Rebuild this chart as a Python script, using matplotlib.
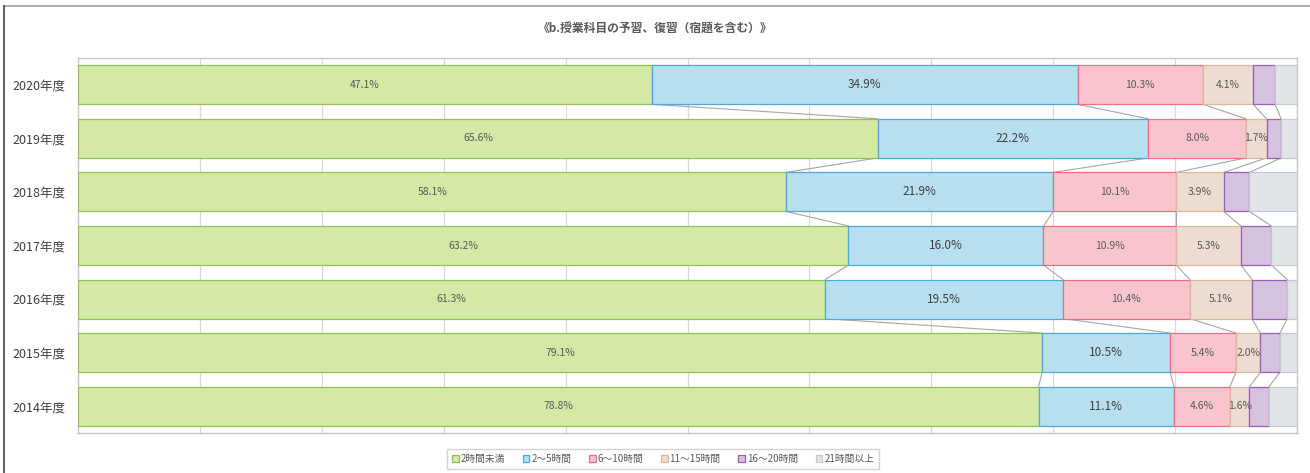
import numpy as np
import matplotlib
matplotlib.use("Agg")
import matplotlib.pyplot as plt
from matplotlib.lines import Line2D

plt.rcParams["font.family"] = ["Noto Sans CJK JP", "DejaVu Sans"]

TITLE = "《b.授業科目の予習、復習（宿題を含む）》"
YEARS = ["2020年度", "2019年度", "2018年度", "2017年度", "2016年度", "2015年度", "2014年度"]
SERIES = ["2時間未満", "2〜5時間", "6〜10時間", "11〜15時間", "16〜20時間", "21時間以上"]

under2 = [47.1, 65.6, 58.1, 63.2, 61.3, 79.1, 78.8]
h2_5 = [34.9, 22.2, 21.9, 16.0, 19.5, 10.5, 11.1]
h6_10 = [10.3, 8.0, 10.1, 10.9, 10.4, 5.4, 4.6]
h11_15 = [4.1, 1.7, 3.9, 5.3, 5.1, 2.0, 1.6]
h16_20 = [1.8, 1.2, 2.1, 2.5, 2.9, 1.6, 1.6]
over21 = [1.8, 1.3, 3.9, 2.1, 0.8, 1.4, 2.3]

FILLS = ["#d5e9a7", "#b8dff0", "#f8c5cd", "#ecdcd1", "#d5c2de", "#e1e4e8"]
EDGES = ["#8fc24f", "#4caad9", "#ec6f86", "#dcb89b", "#9a5fb4", "#c5c9cd"]
SHOW_LABEL = [True, True, True, True, False, False]


def main():
    data = np.array([under2, h2_5, h6_10, h11_15, h16_20, over21])
    n = len(YEARS)
    ypos = np.arange(n)[::-1]  # 2020 on top
    bar_h = 0.73

    fig = plt.figure(figsize=(13.1, 4.73), dpi=100)
    ax = fig.add_axes([78 / 1310, 1 - 433 / 473, (1297 - 78) / 1310, (433 - 58) / 473])

    # outer chart frame (top + left)
    fig.add_artist(Line2D([4 / 1310, 1], [1 - 6 / 473, 1 - 6 / 473], color="#9a9a9a", lw=1.2))
    fig.add_artist(Line2D([4 / 1310, 4 / 1310], [0, 1 - 6 / 473], color="#3c4450", lw=1.2))

    left = np.zeros(n)
    for i, vals in enumerate(data):
        ax.barh(ypos, vals, left=left, height=bar_h, color=FILLS[i],
                edgecolor=EDGES[i], linewidth=0.9, zorder=3)
        if SHOW_LABEL[i]:
            for y, l, v in zip(ypos, left, vals):
                if i == 1:
                    ax.text(l + v / 2, y, f"{v:.1f}%", ha="center", va="center",
                            fontsize=8.5, color="#404040", zorder=5)
                else:
                    ax.text(l + v / 2, y, f"{v:.1f}%", ha="center", va="center",
                            fontsize=7.5, color="#595959", zorder=5)
        left = left + vals
        # series lines between adjacent bars
        if i < len(data) - 1:
            for k in range(n - 1):
                ax.plot([left[k], left[k + 1]],
                        [ypos[k] - bar_h / 2, ypos[k + 1] + bar_h / 2],
                        color="#a6a6a6", lw=0.8, zorder=2)

    ax.set_xlim(0, 100)
    ax.set_ylim(-0.5, n - 0.5)
    ax.set_xticks(np.arange(0, 101, 10))
    ax.set_xticklabels([])
    ax.tick_params(axis="x", length=0)
    ax.tick_params(axis="y", length=0, pad=9, labelsize=9, labelcolor="#404040")
    ax.set_yticks(ypos)
    ax.set_yticklabels(YEARS)
    ax.grid(axis="x", color="#d9d9d9", lw=0.9, zorder=0)
    ax.set_axisbelow(True)
    for s in ax.spines.values():
        s.set_color("#c8c8c8")
        s.set_linewidth(1.0)

    fig.text(0.5, 1 - 28 / 473, TITLE, ha="center", va="center",
             fontsize=8.5, fontweight="bold", color="#595959")

    handles = [plt.Rectangle((0, 0), 1, 1, facecolor=FILLS[i], edgecolor=EDGES[i], lw=0.9)
               for i in range(len(SERIES))]
    leg = fig.legend(handles, SERIES, loc="center", bbox_to_anchor=(663 / 1310, 1 - 459 / 473),
                     ncol=6, fontsize=7, frameon=True, handlelength=0.7, handleheight=0.7,
                     handletextpad=0.2, columnspacing=1.8, borderpad=0.5, fancybox=False)
    leg.get_frame().set_edgecolor("#c8c8c8")
    leg.get_frame().set_linewidth(1.0)
    for t in leg.get_texts():
        t.set_color("#595959")

    fig.savefig("out.png", dpi=100)


if __name__ == "__main__":
    main()
